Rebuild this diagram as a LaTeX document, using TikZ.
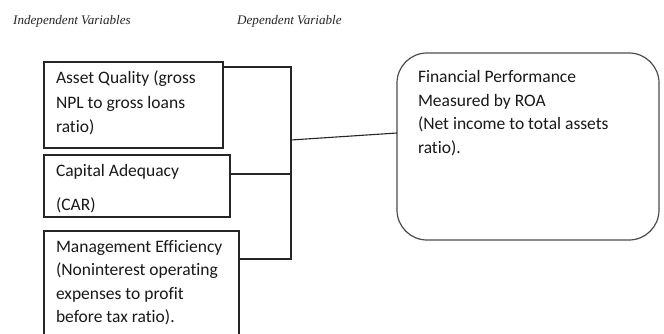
\documentclass[tikz,border=0pt]{standalone}
\usepackage{fontspec}
\newfontfamily\boxfont[Ligatures=NoCommon]{Carlito}
\newfontfamily\headfont{Liberation Serif}
\begin{document}
\begin{tikzpicture}[x=1pt,y=-1pt,
  box/.style={draw=black!85, line width=1.1pt, rectangle, inner sep=0pt, outer sep=0pt, anchor=north west},
  roundbox/.style={draw=black!70, line width=1.2pt, rectangle, rounded corners=30pt, inner sep=0pt, outer sep=0pt, anchor=north west},
  txt/.style={anchor=north west, inner sep=0pt, outer sep=0pt, align=left, text=black!90},
  head/.style={anchor=base west, inner sep=0pt, font=\headfont\itshape\fontsize{13.1}{15}\selectfont, text=black!85},
  conn/.style={draw=black!85, line width=1.1pt}]
\clip (0,0) rectangle (664,334);
\fill[white] (0,0) rectangle (664,334);
% headings
\node[head] (hi) at (13,25) {Independent Variables};
\node[head] (hd) at (237,25) {Dependent Variable};
% boxes
\node[box, minimum width=179pt, minimum height=86pt] (aq) at (44,62) {};
\node[box, minimum width=186pt, minimum height=62pt] (ca) at (44,155) {};
\node[box, minimum width=195pt, minimum height=114pt] (me) at (44,231) {};
\node[roundbox, minimum width=262pt, minimum height=187pt] (fp) at (397,53) {};
% texts
\node[txt, font=\boxfont\fontsize{17.5}{24.5}\selectfont] (aqt) at (56,66.35) {\strut Asset Quality (gross\\NPL to gross loans\\ratio)};
\node[txt, font=\boxfont\fontsize{17.5}{33.5}\selectfont] (cat) at (56,153.05) {\strut Capital Adequacy\\(CAR)};
\node[txt, font=\boxfont\fontsize{17.5}{23.4}\selectfont] (met) at (56,236.12) {\strut Management Efficiency\\(Noninterest operating\\expenses to profit\\before tax ratio).};
\node[txt, font=\boxfont\fontsize{17.5}{23.7}\selectfont] (fpt) at (418,65.91) {\strut Financial Performance\\Measured by ROA\\(Net income to total assets\\ratio).};
% connectors
\coordinate (jt) at (291,67);
\coordinate (jm) at (291,174);
\coordinate (jb) at (291,259);
\coordinate (j) at (291,140);
\draw[conn] (aq.east |- jt) -- (jt) -- (jb) -- (me.east |- jb);
\draw[conn] (ca.east |- jm) -- (jm);
\draw[conn] (j) -- ([yshift=13.5pt]fp.west);
\end{tikzpicture}
\end{document}
